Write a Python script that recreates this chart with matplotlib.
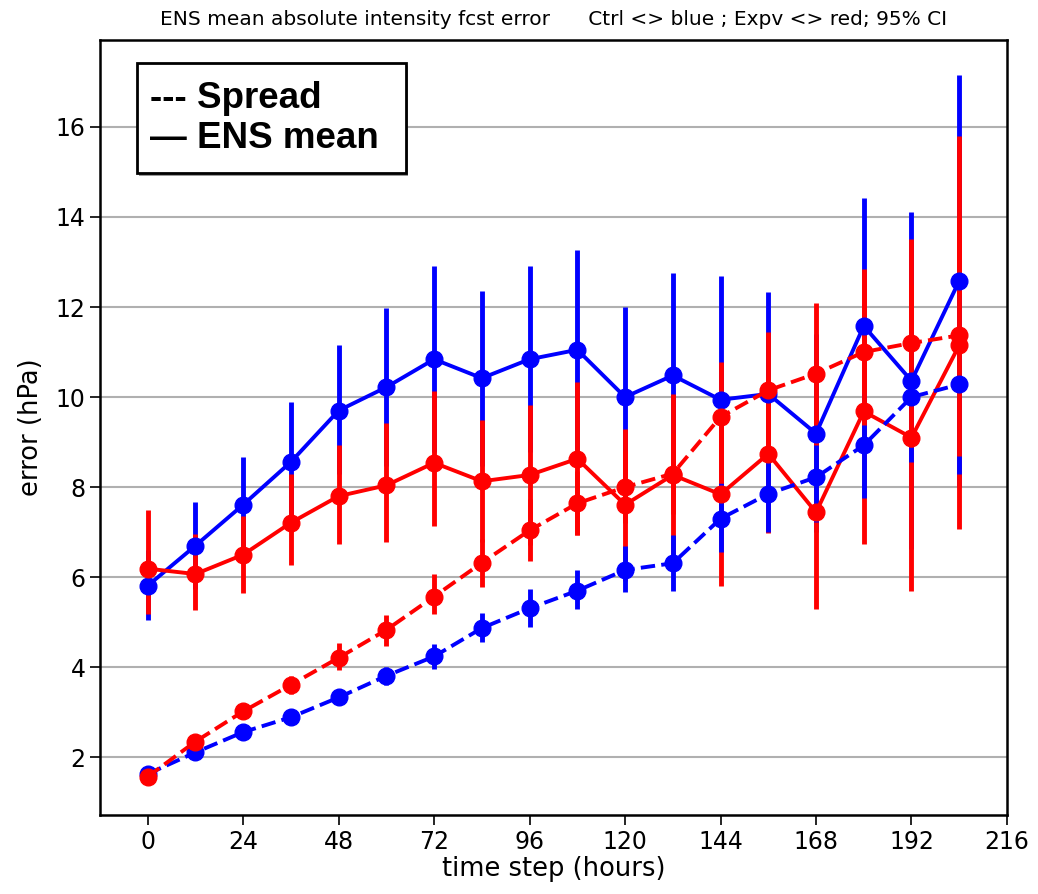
import matplotlib.pyplot as plt
from matplotlib.patches import Rectangle

# forecast lead times (hours)
hours = [0, 12, 24, 36, 48, 60, 72, 84, 96, 108, 120, 132, 144, 156, 168, 180, 192, 204]

# Ctrl (blue): ENS mean error and spread, with 95% CI bounds
ctrl_mean = [5.81, 6.70, 7.61, 8.56, 9.70, 10.22, 10.84, 10.42, 10.84, 11.05, 10.00, 10.48, 9.94, 10.07, 9.19, 11.58, 10.36, 12.58]
ctrl_mean_lo = [5.04, 5.73, 6.54, 7.23, 8.29, 8.46, 8.78, 8.48, 8.78, 8.83, 7.99, 8.20, 7.20, 7.81, 7.00, 8.73, 6.62, 8.01]
ctrl_mean_hi = [6.60, 7.67, 8.68, 9.89, 11.15, 11.98, 12.90, 12.36, 12.90, 13.27, 12.01, 12.76, 12.68, 12.33, 11.40, 14.43, 14.10, 17.15]
ctrl_spread = [1.63, 2.11, 2.56, 2.89, 3.33, 3.81, 4.24, 4.87, 5.31, 5.70, 6.16, 6.31, 7.30, 7.85, 8.22, 8.93, 10.00, 10.28]
ctrl_spread_lo = [1.58, 2.03, 2.46, 2.77, 3.18, 3.61, 3.96, 4.56, 4.89, 5.30, 5.67, 5.70, 6.56, 7.00, 7.22, 7.76, 8.56, 8.30]
ctrl_spread_hi = [1.68, 2.19, 2.66, 3.01, 3.48, 4.01, 4.52, 5.20, 5.74, 6.15, 6.69, 6.94, 8.10, 8.70, 9.20, 10.10, 11.44, 12.26]

# Expv (red)
expv_mean = [6.19, 6.07, 6.50, 7.21, 7.80, 8.04, 8.54, 8.13, 8.27, 8.63, 7.61, 8.27, 7.84, 8.74, 7.44, 9.68, 9.10, 11.15]
expv_mean_lo = [5.19, 5.27, 5.64, 6.26, 6.74, 6.78, 7.13, 6.78, 6.71, 6.93, 5.92, 6.47, 5.81, 6.98, 5.30, 6.73, 5.70, 7.07]
expv_mean_hi = [7.50, 6.97, 7.37, 8.30, 8.93, 9.42, 10.13, 9.48, 9.83, 10.33, 9.30, 10.07, 9.87, 10.44, 9.58, 12.63, 12.50, 15.79]
expv_spread = [1.57, 2.35, 3.02, 3.61, 4.21, 4.83, 5.57, 6.32, 7.04, 7.64, 8.00, 8.30, 9.56, 10.15, 10.52, 11.00, 11.20, 11.37]
expv_spread_lo = [1.52, 2.25, 2.87, 3.41, 3.93, 4.47, 5.19, 5.79, 6.35, 6.93, 7.20, 7.40, 8.10, 8.86, 8.94, 9.37, 8.90, 8.70]
expv_spread_hi = [1.62, 2.45, 3.17, 3.81, 4.54, 5.17, 6.07, 6.85, 7.73, 8.35, 8.80, 9.20, 10.78, 11.44, 12.10, 12.85, 13.50, 14.00]

xticks = [0, 24, 48, 72, 96, 120, 144, 168, 192, 216]
yticks = [2, 4, 6, 8, 10, 12, 14, 16]

fig = plt.figure(figsize=(10.38, 8.94), dpi=100)
ax = fig.add_axes([0.0963, 0.0884, 0.8738, 0.8669])

series = [
    (ctrl_mean, ctrl_mean_lo, ctrl_mean_hi, 'blue', '-'),
    (expv_mean, expv_mean_lo, expv_mean_hi, 'red', '-'),
    (ctrl_spread, ctrl_spread_lo, ctrl_spread_hi, 'blue', '--'),
    (expv_spread, expv_spread_lo, expv_spread_hi, 'red', '--'),
]

# error bars first, then lines + markers on top
for vals, lo, hi, col, ls in series:
    yerr = [[v - l for v, l in zip(vals, lo)], [h - v for v, h in zip(vals, hi)]]
    ax.errorbar(hours, vals, yerr=yerr, fmt='none', ecolor=col, elinewidth=3.5, capsize=0, zorder=2)
for vals, lo, hi, col, ls in series:
    ax.plot(hours, vals, color=col, linestyle=ls, linewidth=2.8, marker='o', markersize=12, zorder=3)

ax.set_xlim(-12, 216)
ax.set_ylim(0.72, 17.93)
ax.set_xticks(xticks)
ax.set_yticks(yticks)
ax.tick_params(labelsize=17, length=7, width=1.2)
ax.yaxis.grid(True, color='#b0b0b0', linewidth=1.5)
ax.set_axisbelow(True)
for sp in ax.spines.values():
    sp.set_linewidth(1.8)

ax.set_xlabel('time step (hours)', fontsize=18.5, labelpad=2)
ax.set_ylabel('error (hPa)', fontsize=18.5, labelpad=8)
ax.set_title('ENS mean absolute intensity fcst error      Ctrl <> blue ; Expv <> red; 95% CI',
             fontsize=14.5, pad=11)

# legend drawn as a boxed text block
W, H = 1038.0, 894.0
fig.patches.append(Rectangle((139 / W, 1 - 176 / H), 269 / W, 110 / H, transform=fig.transFigure,
                             facecolor='#555555', edgecolor='none', zorder=4, alpha=0.6))
fig.patches.append(Rectangle((137 / W, 1 - 173 / H), 269 / W, 110 / H, transform=fig.transFigure,
                             facecolor='white', edgecolor='black', linewidth=2, zorder=5))
fig.text(150 / W, 1 - 148 / H, '--- Spread\n\u2014 ENS mean', fontsize=26.5, fontweight='bold',
         family=['Liberation Sans', 'DejaVu Sans'], va='baseline', ha='left', linespacing=1.2, zorder=6)

fig.savefig('out.png', dpi=100)
